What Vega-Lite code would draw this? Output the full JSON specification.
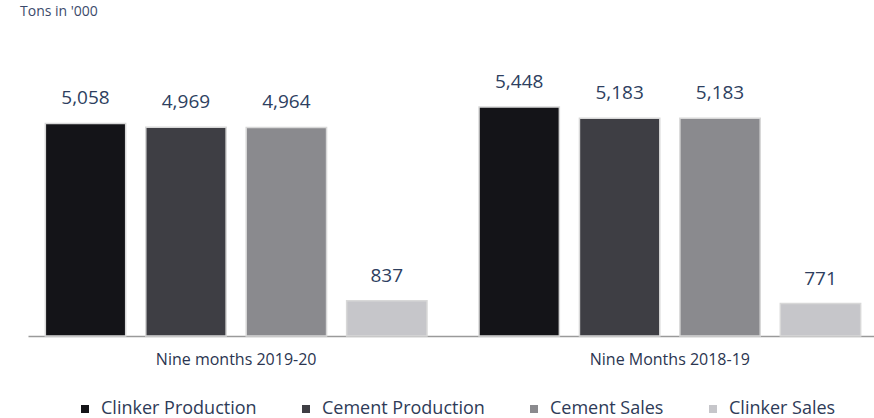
{
  "$schema": "https://vega.github.io/schema/vega-lite/v6.json",
  "width": 850,
  "height": 313,
  "padding": {"left": 20, "top": 5, "right": 4, "bottom": 5},
  "background": "white",
  "title": {"text": "Tons in '000", "anchor": "start", "fontSize": 14, "fontWeight": "normal", "color": "#3b4a6b", "font": "Open Sans", "dx": -8, "offset": 4},
  "data": {"values": [
    {"period": "Nine months 2019-20", "series": "Clinker Production", "value": 5058, "label": "5,058"},
    {"period": "Nine months 2019-20", "series": "Cement Production", "value": 4969, "label": "4,969"},
    {"period": "Nine months 2019-20", "series": "Cement Sales", "value": 4964, "label": "4,964"},
    {"period": "Nine months 2019-20", "series": "Clinker Sales", "value": 837, "label": "837"},
    {"period": "Nine Months 2018-19", "series": "Clinker Production", "value": 5448, "label": "5,448"},
    {"period": "Nine Months 2018-19", "series": "Cement Production", "value": 5183, "label": "5,183"},
    {"period": "Nine Months 2018-19", "series": "Cement Sales", "value": 5183, "label": "5,183"},
    {"period": "Nine Months 2018-19", "series": "Clinker Sales", "value": 771, "label": "771"}
  ]},
  "encoding": {
    "x": {"field": "period", "type": "nominal", "sort": null, "title": null,
      "scale": {"paddingInner": 0.12, "paddingOuter": 0.04},
      "axis": {"labelAngle": 0, "ticks": false, "domainColor": "#9a9a9a", "domainWidth": 1.5, "labelFont": "Open Sans", "labelFontSize": 16, "labelColor": "#2b3550", "labelPadding": 15}},
    "xOffset": {"field": "series", "type": "nominal", "sort": ["Clinker Production", "Cement Production", "Cement Sales", "Clinker Sales"], "scale": {"paddingInner": 0.2, "paddingOuter": 0}},
    "y": {"field": "value", "type": "quantitative", "scale": {"domain": [0, 7450]}, "axis": null}
  },
  "layer": [
    {"mark": {"type": "bar", "stroke": "#d8d8d8", "strokeWidth": 1.5},
     "encoding": {"color": {"field": "series", "type": "nominal", "sort": ["Clinker Production", "Cement Production", "Cement Sales", "Clinker Sales"],
       "scale": {"domain": ["Clinker Production", "Cement Production", "Cement Sales", "Clinker Sales"], "range": ["#141418", "#3e3e44", "#8a8a8e", "#c6c6ca"]},
       "legend": {"orient": "none", "legendX": 48, "legendY": 377, "direction": "horizontal", "title": null, "symbolType": "square", "symbolSize": 64, "labelFont": "Open Sans", "labelFontSize": 18, "labelColor": "#2e3b58", "labelLimit": 400, "columnPadding": 40, "labelOffset": 7, "symbolStrokeWidth": 0}}}},
    {"mark": {"type": "text", "baseline": "middle", "dy": -25, "font": "Open Sans", "fontSize": 19, "color": "#2e3f5f"},
     "encoding": {"text": {"field": "label"}}}
  ],
  "config": {"view": {"stroke": null}}
}
